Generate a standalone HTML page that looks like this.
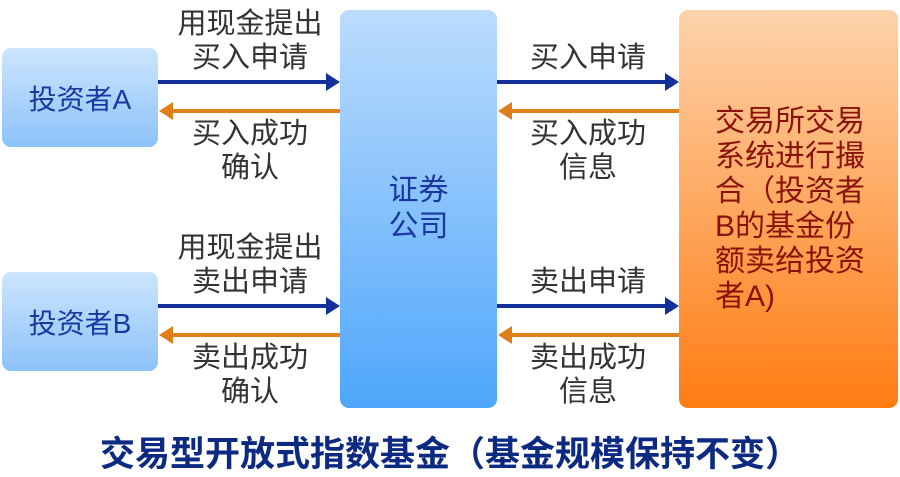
<!DOCTYPE html>
<html><head><meta charset="utf-8"><style>
body{margin:0;width:900px;height:476px;background:#fff;position:relative;overflow:hidden;font-family:"Liberation Sans","Noto Sans CJK SC",sans-serif}
.b{position:absolute;border-radius:9px;display:flex;align-items:center;justify-content:center;text-align:center}
.inv{background:linear-gradient(#cde5fd,#8cc2fa);color:#1a38a0;font-size:28px;width:156px;height:99px;left:2px}
.sec{left:340px;top:10px;width:157px;height:398px;background:linear-gradient(#bcdcfd,#4ea6fb);color:#1a38a0;font-size:30px;line-height:36px}
.ex{left:679px;top:10px;width:219px;height:398px;background:linear-gradient(#fdd3ab,#ff7c12);color:#8a1208;font-size:30px;line-height:35px}
.t{position:absolute;color:#333;font-size:29px;line-height:34px;text-align:center;width:220px}
.ln{position:absolute;height:4px}
.bl{background:#14309a}.or{background:#e07f1a}
.ar{position:absolute;width:0;height:0;border-top:9px solid transparent;border-bottom:9px solid transparent}
.ar.r{border-left:14px solid #14309a}.ar.l{border-right:14px solid #e07f1a}
.title{position:absolute;top:426px;left:0;width:900px;text-align:center;font-weight:bold;font-size:35px;color:#0d2a82}
</style></head><body>
<div class="b inv" style="top:48px">投资者A</div>
<div class="b inv" style="top:272px">投资者B</div>
<div class="b sec">证券<br>公司</div>
<div class="b ex" style="justify-content:flex-start;padding:0 0 0 36px;box-sizing:border-box;text-align:left"><div>交易所交易<br>系统进行撮<br>合（投资者<br>B的基金份<br>额卖给投资<br>者A)</div></div>

<div class="t" style="left:140px;top:7px">用现金提出<br>买入申请</div>
<div class="t" style="left:140px;top:117px">买入成功<br>确认</div>
<div class="t" style="left:478px;top:41px">买入申请</div>
<div class="t" style="left:478px;top:117px">买入成功<br>信息</div>
<div class="t" style="left:140px;top:231px">用现金提出<br>卖出申请</div>
<div class="t" style="left:140px;top:341px">卖出成功<br>确认</div>
<div class="t" style="left:478px;top:265px">卖出申请</div>
<div class="t" style="left:478px;top:341px">卖出成功<br>信息</div>

<div class="ln bl" style="left:158px;top:80px;width:170px"></div><div class="ar r" style="left:326px;top:73px"></div>
<div class="ln or" style="left:172px;top:109px;width:168px"></div><div class="ar l" style="left:159px;top:102px"></div>
<div class="ln bl" style="left:497px;top:80px;width:170px"></div><div class="ar r" style="left:665px;top:73px"></div>
<div class="ln or" style="left:511px;top:109px;width:168px"></div><div class="ar l" style="left:498px;top:102px"></div>

<div class="ln bl" style="left:158px;top:304px;width:170px"></div><div class="ar r" style="left:326px;top:297px"></div>
<div class="ln or" style="left:172px;top:333px;width:168px"></div><div class="ar l" style="left:159px;top:326px"></div>
<div class="ln bl" style="left:497px;top:304px;width:170px"></div><div class="ar r" style="left:665px;top:297px"></div>
<div class="ln or" style="left:511px;top:333px;width:168px"></div><div class="ar l" style="left:498px;top:326px"></div>

<div class="title">交易型开放式指数基金（基金规模保持不变）</div>
</body></html>
